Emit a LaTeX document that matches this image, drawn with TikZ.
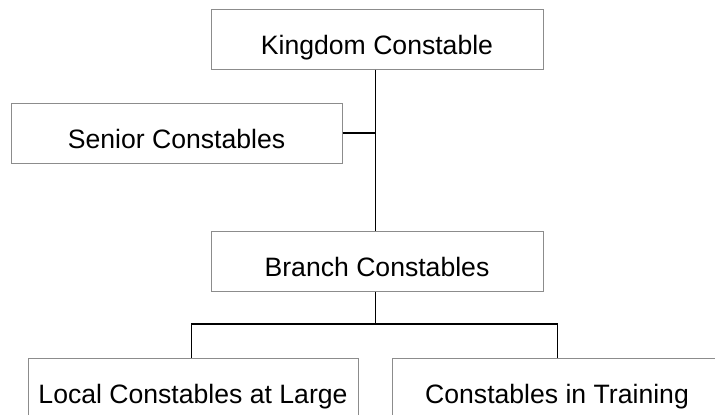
\documentclass[tikz,border=0pt]{standalone}
\usepackage{fontspec}
\setmainfont{Liberation Sans}
\begin{document}
\begin{tikzpicture}[x=1pt,y=-1pt,
  box/.style={draw=black!45, line width=1pt, minimum height=60pt, inner sep=0pt,
    text height=30pt, text depth=0pt, font=\fontsize{26.6}{30}\selectfont},
  link/.style={draw=black, line width=1.3pt}]
\useasboundingbox (0,0) rectangle (715,415);
\clip (0,0) rectangle (715,415);
\fill[white] (0,0) rectangle (715,415);
\node[box, minimum width=332pt] (k) at (377,39) {Kingdom Constable};
\node[box, minimum width=331pt] (s) at (176.5,133) {Senior Constables};
\node[box, minimum width=332pt] (b) at (377,261) {Branch Constables};
\node[box, minimum width=330pt] (l) at (193,388) {Local Constables at Large};
\node[box, minimum width=330pt] (t) at (557,388) {Constables in Training};
\coordinate (j) at (375.5,133);
\coordinate (m) at (375.5,324);
\draw[link] (k.south -| j) -- (b.north -| j);
\draw[link] (s.east) -- (j);
\draw[link] (b.south -| m) -- (m);
\draw[link] (l.north -| 191.7,0) |- (m) -| (t.north -| 557.7,0);
\end{tikzpicture}
\end{document}
